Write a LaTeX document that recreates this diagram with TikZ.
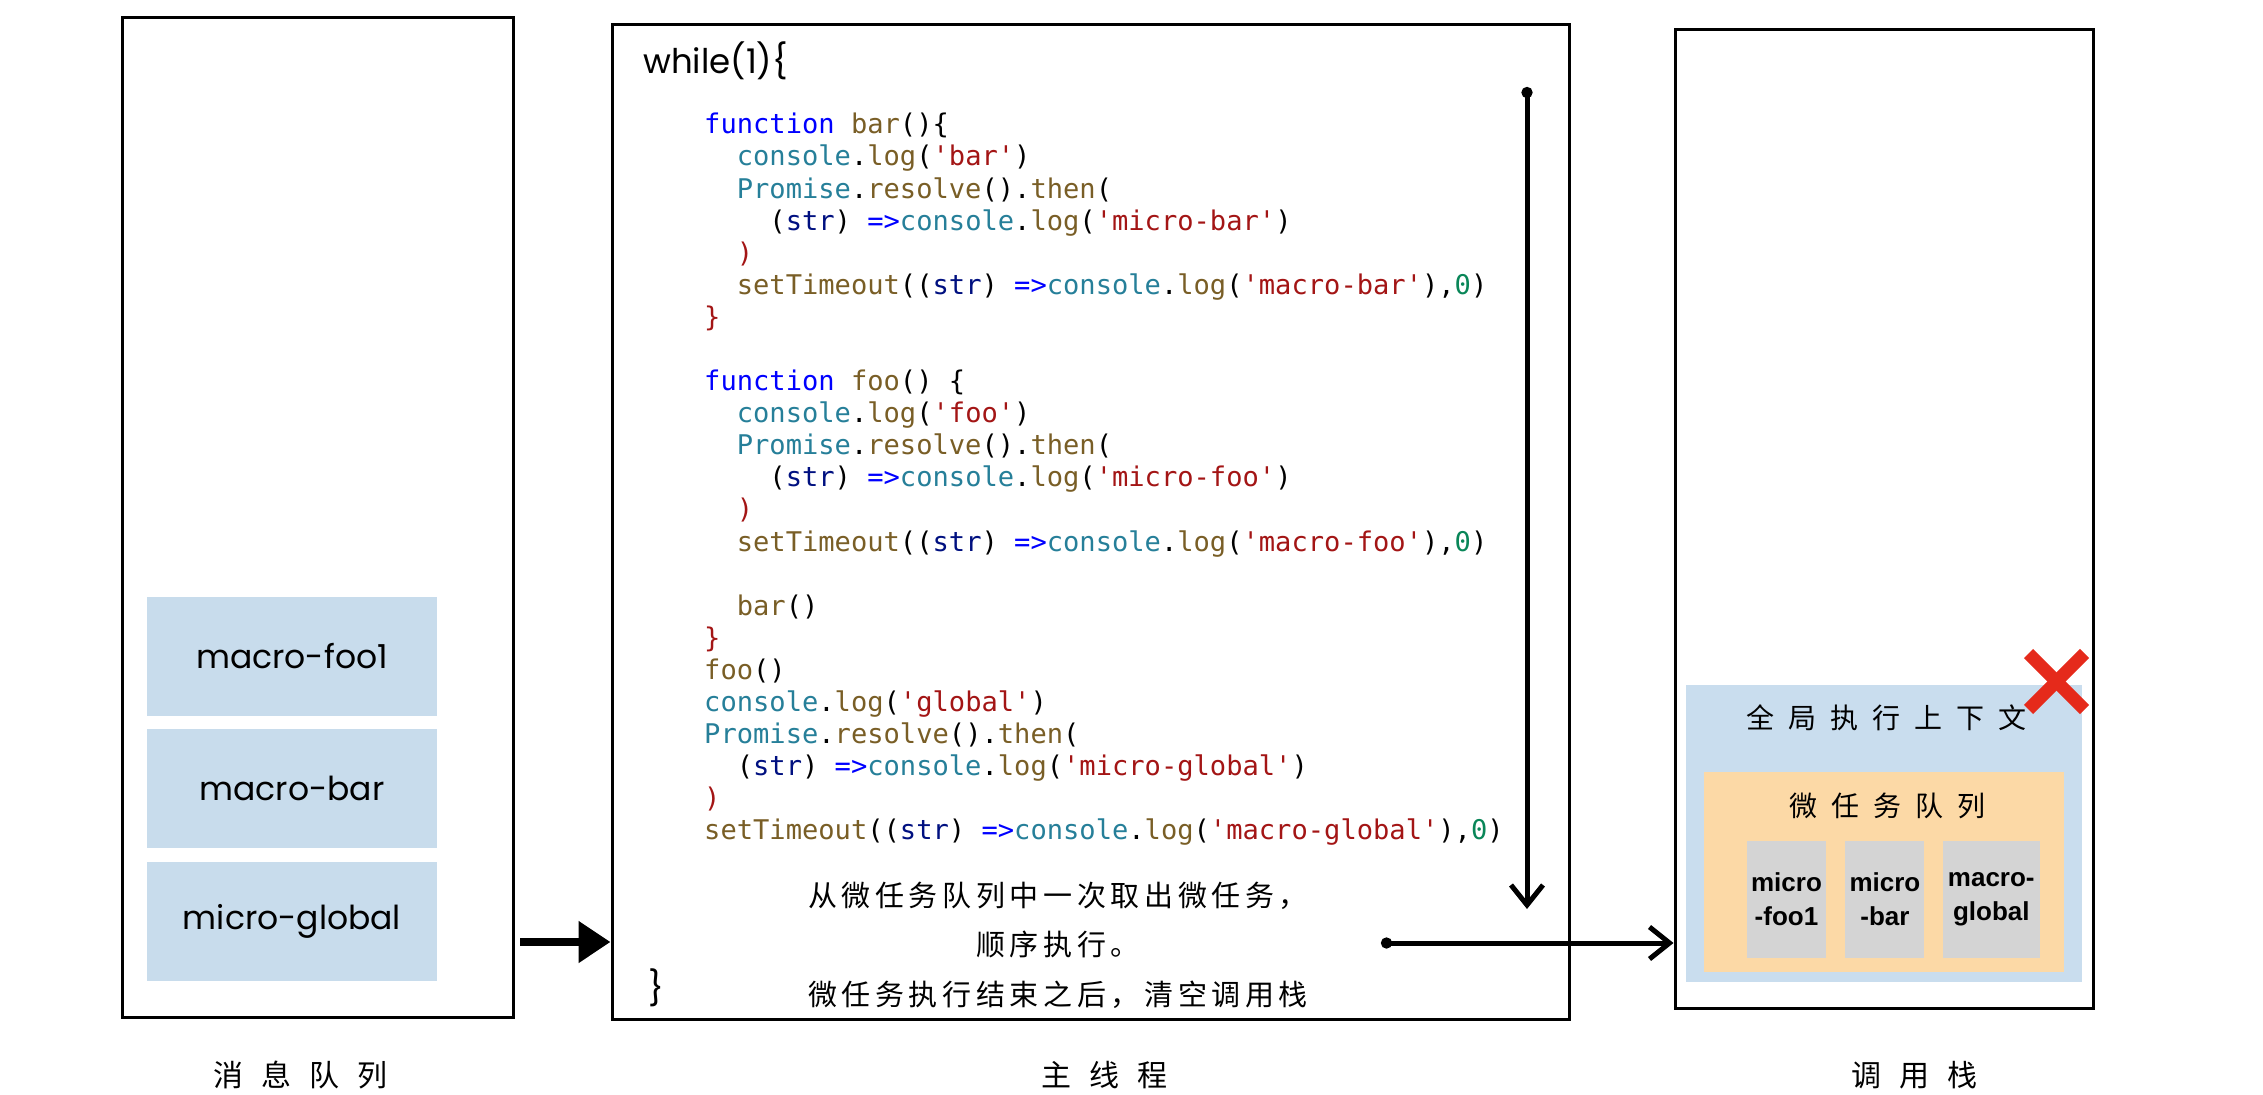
\documentclass[tikz,border=0pt]{standalone}
\usepackage{fontspec}
\setmainfont{Poppins}
\setmonofont{DejaVu Sans Mono}
\newfontfamily\cjk{Noto Sans CJK SC}
\newfontfamily\boxfont{Liberation Sans}
\usetikzlibrary{arrows.meta,positioning}

\definecolor{taskblue}{HTML}{C8DCEC}
\definecolor{ctxblue}{HTML}{C9DDEE}
\definecolor{queueorange}{HTML}{FCD9A6}
\definecolor{slotgray}{HTML}{D4D4D4}
\definecolor{crossred}{HTML}{E52A1B}
\definecolor{cKw}{HTML}{0000FF}
\definecolor{cFn}{HTML}{795E26}
\definecolor{cCls}{HTML}{267F99}
\definecolor{cStr}{HTML}{A31515}
\definecolor{cVar}{HTML}{001080}
\definecolor{cNum}{HTML}{098658}

\newcommand{\jskw}[1]{\textcolor{cKw}{#1}}
\newcommand{\jsfn}[1]{\textcolor{cFn}{#1}}
\newcommand{\jscls}[1]{\textcolor{cCls}{#1}}
\newcommand{\jsstr}[1]{\textcolor{cStr}{#1}}
\newcommand{\jsvar}[1]{\textcolor{cVar}{#1}}
\newcommand{\jsnum}[1]{\textcolor{cNum}{#1}}

\begin{document}
\begin{tikzpicture}[
    x=1pt, y=-1pt,
    panel/.style={rectangle, draw, line width=3pt, inner sep=0pt},
    task/.style={rectangle, fill=taskblue, minimum width=290pt, minimum height=119pt, inner sep=0pt, font=\fontsize{33pt}{38pt}\selectfont},
    slot/.style={rectangle, fill=slotgray, minimum height=117pt, inner sep=0pt, align=center, font=\boxfont\bfseries\fontsize{26pt}{34pt}\selectfont},
    title/.style={inner sep=0pt, font=\cjk\fontsize{30pt}{36pt}\selectfont\addfontfeature{LetterSpace=60}},
    subtitle/.style={inner sep=0pt, font=\cjk\fontsize{28pt}{34pt}\selectfont\addfontfeature{LetterSpace=50}},
    note/.style={inner sep=0pt, align=center, font=\cjk\fontsize{29pt}{49.5pt}\selectfont\addfontfeature{LetterSpace=16}},
    hand/.style={inner sep=0pt, font=\fontsize{34pt}{40pt}\selectfont},
    code/.style={inner sep=0pt, align=left, font=\ttfamily\fontsize{27.1pt}{32.1pt}\selectfont},
    fatarrow/.style={line width=8pt, -{Triangle[length=32pt, width=40pt]}},
    flow/.style={line width=5pt, {Circle[length=11pt]}-{Straight Barb[length=20pt, width=32pt]}},
    crossline/.style={line width=13pt, draw=crossred}
]
    \useasboundingbox (0,0) rectangle (2263,1095);

    % Message queue
    \node[panel, minimum width=391pt, minimum height=1000pt] (queue) at (317.5,517) {};
    \node[task] (task1) at (292,656.5) {macro-foo1};
    \node[task, below=13pt of task1] (task2) {macro-bar};
    \node[task, below=13pt of task2] (task3) {micro-global};
    \node[title] (queuelabel) at (300,1075) {消息队列};

    % Main thread
    \node[panel, minimum width=957pt, minimum height=995pt] (main) at (1090.5,521.5) {};
    \node[hand, anchor=west] (loophead) at (643,61) {while(1)\{};
    \node[code, anchor=north west] (loopbody) at (704,113) {%
        \jskw{function} \jsfn{bar}()\{\\
        \phantom{xx}\jscls{console}.\jsfn{log}(\jsstr{'bar'})\\
        \phantom{xx}\jscls{Promise}.\jsfn{resolve}().\jsfn{then}(\\
        \phantom{xxxx}(\jsvar{str}) \jskw{=>}\jscls{console}.\jsfn{log}(\jsstr{'micro-bar'})\\
        \phantom{xx}\jsstr{)}\\
        \phantom{xx}\jsfn{setTimeout}((\jsvar{str}) \jskw{=>}\jscls{console}.\jsfn{log}(\jsstr{'macro-bar'}),\jsnum{0})\\
        \jsstr{\}}\\
        \mbox{}\\
        \jskw{function} \jsfn{foo}() \{\\
        \phantom{xx}\jscls{console}.\jsfn{log}(\jsstr{'foo'})\\
        \phantom{xx}\jscls{Promise}.\jsfn{resolve}().\jsfn{then}(\\
        \phantom{xxxx}(\jsvar{str}) \jskw{=>}\jscls{console}.\jsfn{log}(\jsstr{'micro-foo'})\\
        \phantom{xx}\jsstr{)}\\
        \phantom{xx}\jsfn{setTimeout}((\jsvar{str}) \jskw{=>}\jscls{console}.\jsfn{log}(\jsstr{'macro-foo'}),\jsnum{0})\\
        \mbox{}\\
        \phantom{xx}\jsfn{bar}()\\
        \jsstr{\}}\\
        \jsfn{foo}()\\
        \jscls{console}.\jsfn{log}(\jsstr{'global'})\\
        \jscls{Promise}.\jsfn{resolve}().\jsfn{then}(\\
        \phantom{xx}(\jsvar{str}) \jskw{=>}\jscls{console}.\jsfn{log}(\jsstr{'micro-global'})\\
        \jsstr{)}\\
        \jsfn{setTimeout}((\jsvar{str}) \jskw{=>}\jscls{console}.\jsfn{log}(\jsstr{'macro-global'}),\jsnum{0})};
    \node[hand, anchor=west] (looptail) at (648,988) {\}};
    \node[note] (drain) at (1058,945) {从微任务队列中一次取出微任务，\\顺序执行。\\微任务执行结束之后，清空调用栈};
    \node[title] (mainlabel) at (1104,1075) {主线程};

    % Call stack
    \node[panel, minimum width=418pt, minimum height=979pt] (stack) at (1884,518.5) {};
    \node[rectangle, fill=ctxblue, minimum width=396pt, minimum height=297pt] (ctx) at (1884,833.5) {};
    \node[subtitle] (ctxtitle) at (1886,718) {全局执行上下文};
    \node[rectangle, fill=queueorange, minimum width=360pt, minimum height=200pt] (microq) at (1884,872) {};
    \node[subtitle] (microqtitle) at (1887,806) {微任务队列};
    \node[slot, minimum width=79pt] (mt1) at (1786.5,899.5) {micro\\-foo1};
    \node[slot, minimum width=79pt, right=19pt of mt1] (mt2) {micro\\-bar};
    \node[slot, minimum width=97pt, right=18pt of mt2] (mt3) {macro-\\global};
    \node[title] (stacklabel) at (1914,1075) {调用栈};

    % Cross
    \coordinate (cross) at (2056.5,681.5);
    \draw[crossline] ([shift={(-28,-28)}]cross) -- ([shift={(28,28)}]cross);
    \draw[crossline] ([shift={(28,-28)}]cross) -- ([shift={(-28,28)}]cross);

    % Arrows
    \coordinate (feed) at (520,942);
    \coordinate (scantop) at (1527,87);
    \coordinate (scanbottom) at (1527,909);
    \coordinate (clear) at (1381,943);
    \draw[fatarrow] (feed) -- (main.west |- feed);
    \draw[flow] (scantop) -- (scanbottom);
    \draw[flow] (clear) -- (stack.west |- clear);

\end{tikzpicture}
\end{document}
